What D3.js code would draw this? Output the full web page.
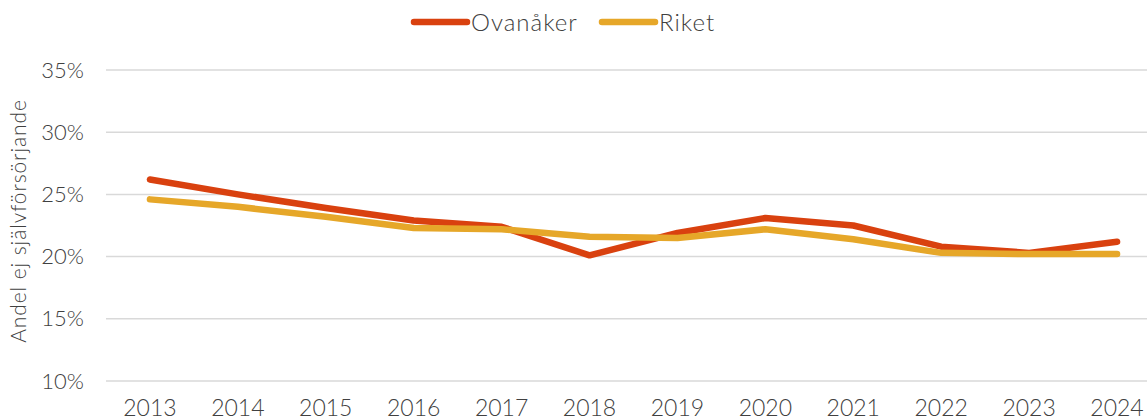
<!DOCTYPE html>
<html>
<head>
<meta charset="utf-8">
<script src="https://cdn.jsdelivr.net/npm/d3@7"></script>
<style>
  html, body { margin: 0; padding: 0; background: #fff; }
  svg { display: block; }
  text { font-family: "Lato", "Open Sans", sans-serif; font-weight: 300; fill: #404040; }
</style>
</head>
<body>
<svg id="chart" width="1147" height="420"></svg>
<script>
// Andel ej självförsörjande, Ovanåker jämfört med riket
const years = ["2013","2014","2015","2016","2017","2018","2019","2020","2021","2022","2023","2024"];
const ovanaker = [26.2, 25.0, 23.9, 22.9, 22.4, 20.1, 21.9, 23.1, 22.5, 20.8, 20.3, 21.2];
const riket    = [24.6, 24.0, 23.2, 22.3, 22.2, 21.6, 21.5, 22.2, 21.4, 20.3, 20.2, 20.2];
const yTicks = [10, 15, 20, 25, 30, 35];
const seriesNames = ["Ovanåker", "Riket"];
const seriesColors = ["#D9410F", "#E6A729"];

const svg = d3.select("#chart");

const x = d3.scaleBand().domain(years).range([106, 1161]);
const y = d3.scaleLinear().domain([10, 35]).range([381, 70]);

// Grid
svg.append("g").selectAll("line").data(yTicks).join("line")
  .attr("x1", 106).attr("x2", 1147)
  .attr("y1", d => y(d)).attr("y2", d => y(d))
  .attr("stroke", "#d9d9d9").attr("stroke-width", 1.5);

// Y axis labels
const yAxis = d3.axisLeft(y).tickValues(yTicks).tickSize(0).tickPadding(0)
  .tickFormat(d => d + "%");
svg.append("g").attr("transform", "translate(84,0)").call(yAxis)
  .call(g => g.select(".domain").remove())
  .selectAll("text").style("font-size", "22px").attr("fill", "#404040")
  .style("font-family", "Lato, sans-serif").style("font-weight", 300);

// X axis labels
const xAxis = d3.axisBottom(x).tickSize(0).tickPadding(0);
svg.append("g").attr("transform", "translate(0,400)").call(xAxis)
  .call(g => g.select(".domain").remove())
  .selectAll("text").style("font-size", "23px").attr("fill", "#404040")
  .style("font-family", "Lato, sans-serif").style("font-weight", 300);

// Y axis title
svg.append("text")
  .attr("transform", "translate(26,221) rotate(-90)")
  .attr("text-anchor", "middle")
  .style("font-size", "21px")
  .style("letter-spacing", "0.9px")
  .text("Andel ej självförsörjande");

// Lines
const line = d3.line()
  .x((d, i) => x(years[i]) + x.bandwidth() / 2)
  .y(d => y(d));

[ovanaker, riket].forEach((vals, k) => {
  svg.append("path").datum(vals)
    .attr("d", line)
    .attr("fill", "none")
    .attr("stroke", seriesColors[k])
    .attr("stroke-width", 6.5)
    .attr("stroke-linecap", "round")
    .attr("stroke-linejoin", "round");
});

// Legend
const legendX = [414, 602];
seriesNames.forEach((name, k) => {
  const g = svg.append("g").attr("transform", `translate(${legendX[k]},22)`);
  g.append("line").attr("x1", 0).attr("x2", 53).attr("y1", 0).attr("y2", 0)
    .attr("stroke", seriesColors[k]).attr("stroke-width", 6.5).attr("stroke-linecap", "round");
  g.append("text").attr("x", 57).attr("y", 9)
    .style("font-size", "24px").style("letter-spacing", "1px").text(name);
});
</script>
</body>
</html>
